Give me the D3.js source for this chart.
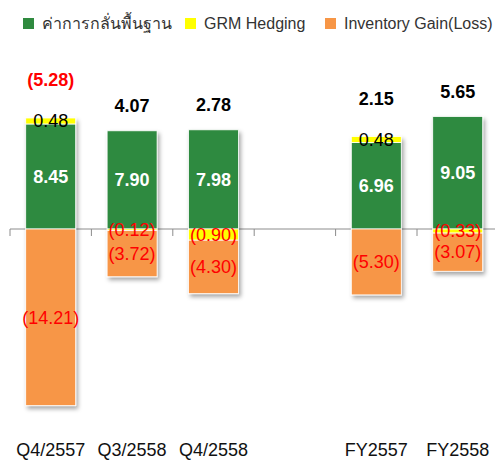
<!DOCTYPE html>
<html>
<head>
<meta charset="utf-8">
<script src="https://cdn.jsdelivr.net/npm/d3@7"></script>
<style>
  body { margin: 0; background: #fff; }
  svg { display: block; font-family: "Liberation Sans", Arial, sans-serif; }
</style>
</head>
<body>
<svg id="chart" width="495" height="462"></svg>
<script>
// data
const categories = ["Q4/2557", "Q3/2558", "Q4/2558", "", "FY2557", "FY2558"];
const baseGrm   = [8.45, 7.90, 7.98, null, 6.96, 9.05];
const hedging   = [0.48, -0.12, -0.90, null, 0.48, -0.33];
const inventory = [-14.21, -3.72, -4.30, null, -5.30, -3.07];
const totals    = [-5.28, 4.07, 2.78, null, 2.15, 5.65];

const seriesNames = ["ค่าการกลั่นพื้นฐาน", "GRM Hedging", "Inventory Gain(Loss)"];
const keys = ["base", "hedge", "inv"];
const colors = { base: "#2f8a3f", hedge: "#ffff00", inv: "#f79646" };

const svg = d3.select("#chart");

// shadow under the bars
const defs = svg.append("defs");
defs.append("filter").attr("id", "shadow")
    .attr("x", "-20%").attr("y", "-20%").attr("width", "150%").attr("height", "150%")
  .append("feDropShadow")
    .attr("dx", 2).attr("dy", 3).attr("stdDeviation", 2)
    .attr("flood-color", "#000").attr("flood-opacity", 0.35);

const rows = categories.map((c, i) => ({
  key: i, cat: c, base: baseGrm[i] || 0, hedge: hedging[i] || 0, inv: inventory[i] || 0,
  total: totals[i], empty: baseGrm[i] == null
}));

const x = d3.scaleBand()
    .domain(rows.map(d => d.key))
    .range([10, 498.4])
    .paddingInner(0.386)
    .paddingOuter(0.193);

const k = 12.43; // px per unit
const y = d3.scaleLinear()
    .domain([-15, 10])
    .range([229 + 15 * k, 229 - 10 * k]);

const stacked = d3.stack().keys(keys).offset(d3.stackOffsetDiverging)(rows);

// zero axis + ticks at band edges
const gap = (x.step() - x.bandwidth()) / 2;
svg.append("line")
    .attr("x1", 10).attr("x2", 495)
    .attr("y1", y(0)).attr("y2", y(0))
    .attr("stroke", "#8c8c8c").attr("stroke-width", 1);
svg.append("g").selectAll("line")
    .data(rows.map(d => x(d.key) - gap).concat([x(rows[rows.length - 1].key) + x.bandwidth() + gap]))
    .join("line")
    .attr("x1", d => d).attr("x2", d => d)
    .attr("y1", y(0)).attr("y2", y(0) + 7)
    .attr("stroke", "#8c8c8c").attr("stroke-width", 1);

// bars, one group per category
const groups = svg.append("g").selectAll("g")
    .data(rows.filter(d => !d.empty))
    .join("g")
    .attr("filter", "url(#shadow)");

groups.selectAll("rect")
    .data(d => stacked.map(s => ({ key: s.key, seg: s[d.key], row: d })))
    .join("rect")
    .attr("x", d => x(d.row.key))
    .attr("width", x.bandwidth())
    .attr("y", d => y(Math.max(d.seg[0], d.seg[1])))
    .attr("height", d => Math.abs(y(d.seg[0]) - y(d.seg[1])))
    .attr("fill", d => colors[d.key])
    .attr("stroke", "#fff")
    .attr("stroke-width", 0.8);

const fmt = v => v < 0 ? "(" + d3.format(".2f")(-v) + ")" : d3.format(".2f")(v);

// segment labels
const labels = [];
stacked.forEach(s => {
  rows.forEach(d => {
    if (d.empty) return;
    const seg = s[d.key];
    const v = d[s.key];
    labels.push({
      x: x(d.key) + x.bandwidth() / 2,
      y: (y(seg[0]) + y(seg[1])) / 2,
      text: fmt(v),
      fill: s.key === "base" ? "#fff" : (v < 0 ? "#ff0000" : "#000"),
      weight: s.key === "base" ? "bold" : "normal"
    });
  });
});

svg.append("g").selectAll("text")
    .data(labels)
    .join("text")
    .attr("x", d => d.x)
    .attr("y", d => d.y)
    .attr("dy", "0.35em")
    .attr("text-anchor", "middle")
    .attr("font-size", 18)
    .attr("font-weight", d => d.weight)
    .attr("fill", d => d.fill)
    .text(d => d.text);

// totals above each bar
svg.append("g").selectAll("text")
    .data(rows.filter(d => !d.empty))
    .join("text")
    .attr("x", d => x(d.key) + x.bandwidth() / 2)
    .attr("y", d => y(d.base + Math.max(0, d.hedge)) - 25 - (d.hedge > 0 ? 13 : 0))
    .attr("dy", "0.35em")
    .attr("text-anchor", "middle")
    .attr("font-size", 18)
    .attr("font-weight", "bold")
    .attr("fill", d => d.total < 0 ? "#ff0000" : "#000")
    .text(d => fmt(d.total));

// category labels at the bottom
svg.append("g").selectAll("text")
    .data(rows)
    .join("text")
    .attr("x", d => x(d.key) + x.bandwidth() / 2)
    .attr("y", 456)
    .attr("text-anchor", "middle")
    .attr("font-size", 18)
    .attr("fill", "#111")
    .text(d => d.cat);

// legend
const legendX = [23, 185, 325];
const legend = svg.append("g").selectAll("g")
    .data(keys)
    .join("g")
    .attr("transform", (d, i) => "translate(" + legendX[i] + ",0)");
legend.append("rect")
    .attr("x", 0).attr("y", 18)
    .attr("width", 11).attr("height", 11)
    .attr("fill", d => colors[d]);
legend.append("text")
    .attr("x", 19).attr("y", 28.5)
    .attr("font-size", 16)
    .attr("fill", "#333")
    .text((d, i) => seriesNames[i]);
</script>
</body>
</html>
